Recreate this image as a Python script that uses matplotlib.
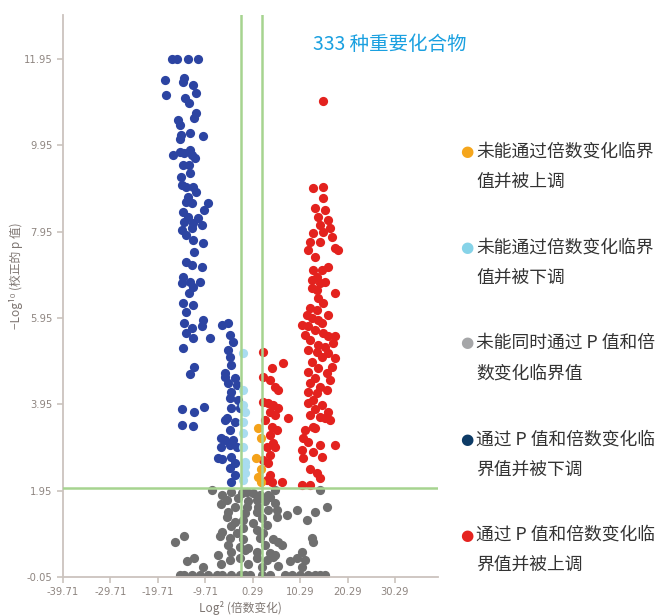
import numpy as np
import matplotlib
matplotlib.use('Agg')
import matplotlib.pyplot as plt

plt.rcParams['font.family'] = ['Noto Sans CJK SC', 'DejaVu Sans']

# log2 fold change / -log10 adjusted p, one pair of lists per group
down_x = [-16.8, -15.6, -13.4, -11.3, -18.3, -14.5, -14.1, -12.4, -18.1, -11.6,
          -13.9, -13.2, -11.6, -12.2, -15.4, -15.1, -13.0, -10.3, -14.9, -15.1,
          -16.6, -15.1, -14.1, -13.0, -12.6, -11.8, -14.5, -13.2, -13.0, -14.9,
          -14.7, -13.7, -12.4, -11.6, -13.4, -13.7, -12.6, -9.2, -14.5, -9.9,
          -13.4, -11.3, -14.1, -12.4, -10.5, -14.7, -12.6, -13.7, -12.4, -10.3,
          -12.0, -13.7, -12.6, -10.5, -14.5, -13.0, -10.9, -14.7, -12.4, -13.2,
          -14.5, -12.4, -13.7, -14.1, -10.3, -10.5, -12.6, -13.7, -12.4, -8.8,
          -6.1, -5.0, -14.5, -12.0, -13.0, -14.7, -12.0, -9.9, -14.7, -12.4,
          -4.6, -3.9, -5.0, -4.6, -4.2, -5.6, -3.5, -5.0, -3.1, -4.2,
          -4.6, -2.9, -4.2, -2.5, -5.2, -3.5, -4.6, -6.3, -5.6, -3.9,
          -6.3, -4.6, -3.1, -7.1, -6.1, -4.2, -3.5, -4.6, -3.5, -4.2,
          -5.6, -5.6]
down_y = [11.95, 11.95, 11.95, 11.95, 11.46, 11.42, 11.51, 11.35, 11.12, 11.16,
          11.05, 10.93, 10.70, 10.58, 10.54, 10.42, 10.24, 10.17, 10.19, 10.10,
          9.73, 9.80, 9.77, 9.84, 9.73, 9.66, 9.50, 9.50, 9.31, 9.22,
          9.03, 8.99, 8.99, 8.87, 8.76, 8.64, 8.62, 8.62, 8.41, 8.46,
          8.29, 8.27, 8.18, 8.15, 8.11, 7.99, 8.04, 7.88, 7.76, 7.69,
          7.48, 7.25, 7.18, 7.14, 6.90, 6.79, 6.79, 6.77, 6.67, 6.53,
          6.30, 6.26, 6.09, 5.84, 5.91, 5.77, 5.72, 5.61, 5.49, 5.49,
          5.79, 5.84, 5.26, 4.82, 4.64, 3.83, 3.78, 3.89, 3.48, 3.45,
          5.56, 5.40, 5.21, 5.05, 4.87, 4.68, 4.57, 4.45, 4.40, 4.24,
          4.10, 4.06, 3.87, 3.87, 3.64, 3.55, 3.36, 3.18, 3.13, 3.13,
          2.97, 3.01, 2.95, 2.71, 2.69, 2.74, 2.60, 2.48, 2.32, 2.16,
          4.59, 3.59]

down_ns_x = [-1.8, -1.8, -1.8, -1.4, -1.8, -1.8, -1.8, -1.4, -1.4, -1.4, -1.8]
down_ns_y = [5.14, 4.29, 3.94, 3.78, 3.55, 3.29, 2.97, 2.62, 2.51, 2.37, 2.20]

up_ns_x = [1.4, 2.0, 0.9, 1.35, 2.0, 2.0]
up_ns_y = [3.41, 3.18, 2.71, 2.27, 2.44, 2.14]

up_x = [2.4, 4.3, 6.6, 2.4, 3.9, 4.9, 5.6, 2.4, 3.5, 4.5,
        5.6, 3.9, 4.9, 7.7, 2.8, 4.3, 5.4, 3.9, 4.5, 3.3,
        4.9, 3.9, 2.4, 3.5, 3.9, 3.3, 6.4, 4.3,
        15.1, 13.0, 15.1, 15.1, 13.4, 15.5, 14.0, 16.1, 14.5, 16.6,
        13.0, 15.1, 17.0, 12.3, 14.5, 17.6, 18.3, 11.9, 13.4, 13.0,
        16.1, 14.9, 13.8, 12.8, 15.5, 14.5, 12.8, 13.8, 17.6, 14.0,
        15.1, 12.3, 13.8, 16.1, 11.7, 12.8, 14.0, 14.9, 10.7, 11.9,
        13.4, 15.1, 11.3, 16.1, 17.6, 12.3, 17.2, 14.0, 15.5, 11.9,
        13.8, 16.1, 17.6, 14.9, 12.8, 17.0, 14.0, 11.9, 15.9, 13.4,
        16.6, 12.3, 14.5, 15.9, 11.9, 13.8, 13.0, 11.9, 14.9, 16.1,
        13.4, 12.3, 14.5, 15.5, 16.6, 13.0, 11.3, 10.9, 13.4, 11.9,
        14.5, 17.6, 10.7, 13.0, 14.9, 10.9, 12.3, 13.8, 14.5, 10.7,
        12.3]
up_y = [5.17, 4.80, 4.91, 4.59, 4.52, 4.36, 4.29, 4.01, 3.99, 3.94,
        3.87, 3.76, 3.71, 3.64, 3.59, 3.43, 3.36, 3.25, 3.06, 2.95,
        2.95, 2.78, 2.67, 2.60, 2.32, 2.20, 2.16, 2.14,
        10.98, 8.96, 8.99, 8.73, 8.50, 8.46, 8.29, 8.22, 8.11, 8.04,
        7.92, 7.95, 7.83, 7.71, 7.71, 7.58, 7.53, 7.53, 7.37, 7.07,
        7.14, 7.07, 6.90, 6.83, 6.79, 6.77, 6.65, 6.60, 6.53, 6.42,
        6.30, 6.19, 6.14, 6.02, 6.02, 5.95, 5.91, 5.84, 5.79, 5.77,
        5.68, 5.61, 5.56, 5.52, 5.52, 5.45, 5.38, 5.33, 5.28, 5.21,
        5.17, 5.14, 5.03, 5.05, 4.94, 4.82, 4.80, 4.70, 4.68, 4.57,
        4.52, 4.45, 4.36, 4.29, 4.24, 4.22, 4.06, 3.99, 3.94, 3.78,
        3.83, 3.71, 3.66, 3.64, 3.59, 3.43, 3.36, 3.18, 3.41, 3.08,
        3.01, 3.01, 2.90, 2.85, 2.74, 2.71, 2.44, 2.37, 2.25, 2.09,
        2.09]

ns_x = [-8.2, -6.1, -4.2, -2.0, -1.0, 0.3, 1.8, 3.5, 4.9, 14.5,
        -5.2, -2.9, -0.8, 1.1, 2.8, 3.9, -6.3, -3.5, -1.0, 1.35,
        4.9, 5.4, -5.0, -1.4, 1.1, 3.5, 15.9, 13.4, 9.6, 7.5,
        5.4, 11.7, -5.2, -3.5, -1.8, 0.3, 2.2, 3.3, -1.8, -4.2,
        -6.1, -3.1, 1.1, 2.4, -6.7, -4.6, -1.8, 1.8, 4.5, 5.6,
        12.8, -14.1, -16.2, -5.0, -2.5, -0.8, 2.8, 6.4, 13.0, -4.2,
        -1.4, 1.1, 3.9, 4.9, 10.7, -12.0, -13.5, -7.1, -4.6, -2.5,
        1.1, 3.3, 4.5, 8.1, 9.6, 11.3, -6.3, -0.8, 2.2, 5.6,
        10.7, -10.3,
        -15.1, -14.1, -12.6, -10.9, -9.2, -7.3, -6.1, -4.2, -2.5, -1.4,
        -0.3, 2.2, 3.9, 7.1, 8.5, 10.2, 11.9, 13.4, 14.5, 15.5]
ns_y = [1.97, 1.86, 1.93, 1.90, 1.93, 1.90, 1.86, 1.86, 1.97, 1.97,
        1.74, 1.79, 1.70, 1.74, 1.70, 1.81, 1.63, 1.58, 1.56, 1.58,
        1.67, 1.51, 1.46, 1.44, 1.46, 1.51, 1.58, 1.46, 1.51, 1.39,
        1.35, 1.28, 1.35, 1.23, 1.28, 1.21, 1.32, 1.16, 1.09, 1.12,
        1.00, 0.98, 1.05, 0.98, 0.89, 0.86, 0.82, 0.86, 0.82, 0.77,
        0.86, 0.89, 0.75, 0.70, 0.65, 0.63, 0.70, 0.70, 0.75, 0.54,
        0.58, 0.54, 0.51, 0.47, 0.54, 0.40, 0.31, 0.47, 0.35, 0.40,
        0.40, 0.35, 0.42, 0.31, 0.40, 0.35, 0.24, 0.24, 0.19, 0.21,
        0.19, 0.19,
        0.0, 0.0, 0.0, 0.0, 0.0, 0.0, 0.0, 0.0, 0.0, 0.0,
        0.0, 0.0, 0.0, 0.0, 0.0, 0.0, 0.0, 0.0, 0.0, 0.0]

fc_cut = 2.2
p_cut = 2.0
xticks = [-39.71, -29.71, -19.71, -9.71, 0.29, 10.29, 20.29, 30.29]
yticks = [-0.05, 1.95, 3.95, 5.95, 7.95, 9.95, 11.95]

legend_labels = [('未能通过倍数变化临界', '值并被上调'),
                 ('未能通过倍数变化临界', '值并被下调'),
                 ('未能同时通过 P 值和倍', '数变化临界值'),
                 ('通过 P 值和倍数变化临', '界值并被下调'),
                 ('通过 P 值和倍数变化临', '界值并被上调')]
legend_colors = ['#f5a61c', '#86d3e8', '#a5a6a8', '#0d3b66', '#e5231f']

fig = plt.figure(figsize=(6.67, 6.16), dpi=100)
ax = fig.add_axes([0.0945, 0.0633, 0.5625, 0.9127])

s = 44
ax.scatter(ns_x, ns_y, s=s, c='#6f6f6f', linewidths=0, zorder=2)
ax.scatter(down_x, down_y, s=s, c='#2c44a2', linewidths=0, zorder=3)
ax.scatter(up_x, up_y, s=s, c='#e3221e', linewidths=0, zorder=3)
ax.scatter(down_ns_x, down_ns_y, s=s, c='#a9dcf0', linewidths=0, zorder=3)
ax.scatter(up_ns_x, up_ns_y, s=s, c='#f4a21a', linewidths=0, zorder=3)

line_kw = dict(color='#a6d490', lw=1.8, zorder=4)
ax.axvline(-fc_cut, **line_kw)
ax.axvline(fc_cut, **line_kw)
ax.axhline(p_cut, **line_kw)

ax.set_xlim(-39.71, 39.4)
ax.set_ylim(-0.05, 12.97)
ax.set_xticks(xticks)
ax.set_yticks(yticks)
ax.set_xticklabels(['%.2f' % v for v in xticks])
ax.set_yticklabels(['%.2f' % v for v in yticks])
for sp in ['top', 'right']:
    ax.spines[sp].set_visible(False)
for sp in ['left', 'bottom']:
    ax.spines[sp].set_color('#cbc3be')
    ax.spines[sp].set_linewidth(1.3)
ax.tick_params(colors='#cbc3be', length=4, width=1.2, labelcolor='#8e8580',
               labelsize=7.2)
for lab in ax.get_xticklabels() + ax.get_yticklabels():
    lab.set_family('DejaVu Sans')

fig.text(0.024, 0.553, '−Log¹⁰ (校正的 p 值)', rotation=90, ha='center',
         va='center', fontsize=8.5, color='#7e7672')
fig.text(0.36, 0.013, 'Log² (倍数变化)', ha='center', va='center',
         fontsize=8.5, color='#7e7672')

fig.text(0.469, 0.927, '333 种重要化合物', fontsize=14, color='#1aa0e0',
         ha='left', va='center')

# legend: colored dot + two-line caption
ys = [152, 248, 343, 440, 535]
for yy, (l1, l2), col in zip(ys, legend_labels, legend_colors):
    fig.text(0.700, 1 - yy / 616, '●', color=col, fontsize=11, ha='center',
             va='center', family='DejaVu Sans')
    fig.text(0.714, 1 - yy / 616, l1, fontsize=12.8, color='#333333',
             ha='left', va='center')
    fig.text(0.714, 1 - (yy + 31) / 616, l2, fontsize=12.8, color='#333333',
             ha='left', va='center')

fig.savefig('out.png', dpi=100)
